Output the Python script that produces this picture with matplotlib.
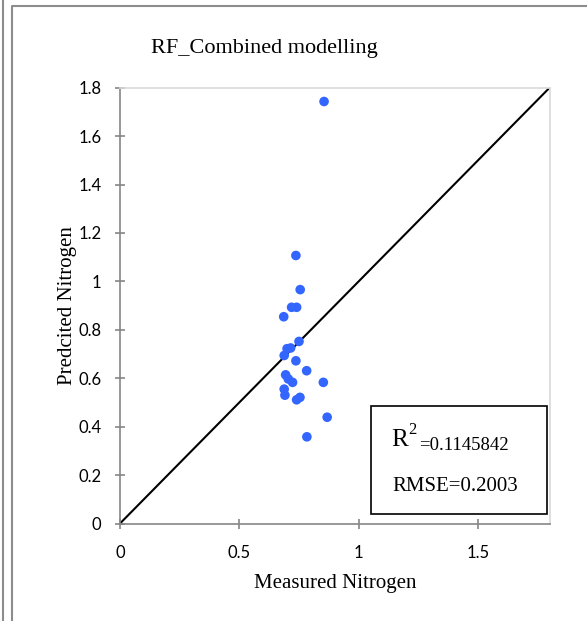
import numpy as np
import matplotlib
matplotlib.use('Agg')
import matplotlib.pyplot as plt
from matplotlib.lines import Line2D
from matplotlib.patches import Rectangle

### 1. Data

measured = [0.855, 0.737, 0.755, 0.719, 0.740, 0.686, 0.750, 0.700, 0.715,
            0.688, 0.737, 0.782, 0.694, 0.705, 0.723, 0.852, 0.688, 0.691,
            0.754, 0.740, 0.868, 0.783]
predicted = [1.743, 1.107, 0.966, 0.893, 0.893, 0.854, 0.752, 0.722, 0.725,
             0.694, 0.672, 0.631, 0.614, 0.597, 0.583, 0.583, 0.555, 0.530,
             0.521, 0.511, 0.439, 0.358]

one_to_one = [0, 1.8]
x_ticks = [0, 0.5, 1, 1.5]
x_tick_labels = ['0', '0.5', '1', '1.5']
y_ticks = [0, 0.2, 0.4, 0.6, 0.8, 1.0, 1.2, 1.4, 1.6, 1.8]
y_tick_labels = ['0', '0.2', '0.4', '0.6', '0.8', '1', '1.2', '1.4', '1.6', '1.8']

r2_text = '0.1145842'
rmse_text = 'RMSE=0.2003'

### 2. Figure

W, H = 587, 621
fig = plt.figure(figsize=(W / 100, H / 100), dpi=100)

def fx(px):
    return px / W

def fy(py):
    return 1 - py / H

serif = 'Liberation Serif'
axis_grey = '#868686'

ax = fig.add_axes([fx(120), fy(523.5), fx(549.6) - fx(120), fy(87.7) - fy(523.5)])

ax.plot(one_to_one, one_to_one, color='black', lw=1.5, zorder=2)
ax.scatter(measured, predicted, s=48, color='#3366ff', edgecolors='none', zorder=3)

ax.set_xlim(0, 1.8)
ax.set_ylim(0, 1.8)
ax.set_xticks(x_ticks)
ax.set_xticklabels(x_tick_labels)
ax.set_yticks(y_ticks)
ax.set_yticklabels(y_tick_labels)

for side in ['top', 'right']:
    ax.spines[side].set_color('#d9d9d9')
    ax.spines[side].set_linewidth(1.2)
for side in ['left', 'bottom']:
    ax.spines[side].set_color(axis_grey)
    ax.spines[side].set_linewidth(1.2)

ax.tick_params(direction='inout', length=7, width=1.2, color=axis_grey,
               labelsize=12, labelcolor='black')
ax.tick_params(axis='y', pad=10)
ax.tick_params(axis='x', pad=12)
for lab in ax.get_xticklabels() + ax.get_yticklabels():
    lab.set_fontfamily('Lato')

ax.set_xlabel('Measured Nitrogen', fontfamily=serif, fontsize=15, labelpad=9)
ax.set_ylabel('Predcited Nitrogen', fontfamily=serif, fontsize=15, labelpad=1)

fig.text(fx(264), fy(48), 'RF_Combined modelling', fontfamily=serif,
         fontsize=16, ha='center', va='center')

### 3. Statistics box

fig.patches.append(Rectangle((fx(371), fy(514)), fx(547) - fx(371), fy(406) - fy(514),
                             transform=fig.transFigure, facecolor='white',
                             edgecolor='black', lw=1.2, zorder=5))
fig.text(fx(391), fy(446), 'R', fontfamily=serif, fontsize=18,
         va='baseline', ha='left', zorder=6)
fig.text(fx(408.5), fy(434), '2', fontfamily=serif, fontsize=12,
         va='baseline', ha='left', zorder=6)
fig.text(fx(419), fy(450), '=' + r2_text, fontfamily=serif, fontsize=13.5,
         va='baseline', ha='left', zorder=6)
fig.text(fx(392), fy(491), rmse_text, fontfamily=serif, fontsize=15,
         va='baseline', ha='left', zorder=6)

### 4. Outer chart border lines

fig.add_artist(Line2D([fx(3), fx(3)], [0, 1], transform=fig.transFigure,
                      color='#8c8c8c', lw=1.5))
fig.add_artist(Line2D([fx(12), fx(12), 1], [0, fy(6), fy(6)], transform=fig.transFigure,
                      color='#8c8c8c', lw=1.5))

fig.savefig('out.png', dpi=100)
